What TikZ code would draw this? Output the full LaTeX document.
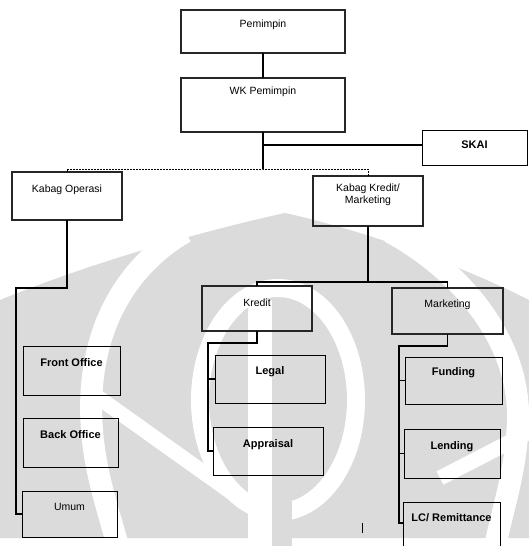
\documentclass[tikz,border=0pt]{standalone}
\usepackage{fontspec}
\setmainfont{Liberation Sans}
\begin{document}
\begin{tikzpicture}[x=1pt,y=-1pt,
  conn/.style={line width=1.1pt, black},
  dconn/.style={line width=0.8pt, black, dash pattern=on 2pt off 1pt},
  box/.style={draw, line width=1pt, anchor=north west, inner sep=0pt, outer sep=0pt},
  dbox/.style={box, draw=black!85, line width=2.4pt},
  lbl/.style={font=\fontsize{10.5}{12}\selectfont, align=center, anchor=center, inner sep=0pt},
  blbl/.style={lbl, font=\fontsize{11}{13}\selectfont\bfseries},
  wm/.style={fill=black!14, draw=none},
  wmw/.style={draw=white, line cap=butt}
]
\clip (0,0) rectangle (529,546);
\fill[white] (0,0) rectangle (529,546);

% faint watermark (scanned background logo)
\fill[wm] (0,300) .. controls (110,255) and (230,225) .. (285,213)
  .. controls (340,225) and (440,255) .. (529,300) -- (529,538) -- (0,538) -- cycle;
\draw[wmw, line width=22pt] (185,232) .. controls (120,270) and (85,340) .. (92,430)
  .. controls (95,470) and (105,500) .. (118,546);
\draw[wmw, line width=22pt] (390,232) .. controls (460,270) and (520,340) .. (518,420)
  .. controls (516,470) and (505,500) .. (495,546);
\draw[wmw, line width=18pt] (278,400) ellipse[x radius=78, y radius=112];
\draw[wmw, line width=15pt] (85,388) -- (245,502);
\draw[wmw, line width=15pt] (535,429) -- (440,478);
\fill[white] (248,300) rectangle (272,546);
\fill[wm] (272,455) rectangle (292,546);

% boxes
\node[dbox, minimum width=164pt, minimum height=43pt,
  label={[lbl,yshift=-15pt]north:Pemimpin}] (pem) at (181,10) {};
\node[dbox, minimum width=164pt, minimum height=54pt,
  label={[lbl,yshift=-14pt]north:WK Pemimpin}] (wk) at (181,78) {};
\node[box, minimum width=105pt, minimum height=35pt,
  label={[blbl,yshift=-15pt]north:SKAI}] (skai) at (422,130) {};
\node[dbox, minimum width=110pt, minimum height=48pt,
  label={[lbl,yshift=-18pt]north:Kabag Operasi}] (ops) at (12,172) {};
\node[dbox, minimum width=110pt, minimum height=50pt,
  label={[lbl,yshift=-18.5pt]north:Kabag Kredit/\\Marketing}] (kk) at (313,176) {};
\node[dbox, minimum width=110pt, minimum height=45pt,
  label={[lbl,yshift=-17pt]north:Kredit}] (kredit) at (202,286) {};
\node[dbox, minimum width=111pt, minimum height=46pt,
  label={[lbl,yshift=-17pt]north:Marketing}] (mkt) at (392,288) {};

\node[box, minimum width=97pt, minimum height=49pt,
  label={[blbl,yshift=-17pt]north:Front Office}] (fo) at (23,346) {};
\node[box, minimum width=95pt, minimum height=49pt,
  label={[blbl,yshift=-17pt]north:Back Office}] (bo) at (23,418) {};
\node[box, minimum width=95pt, minimum height=46pt,
  label={[lbl,yshift=-16pt]north:Umum}] (umum) at (22,491) {};

\node[box, minimum width=110pt, minimum height=48pt,
  label={[blbl,yshift=-17pt]north:Legal}] (legal) at (215,355) {};
\node[box, minimum width=110pt, minimum height=48pt,
  label={[blbl,yshift=-18pt]north:Appraisal}] (appr) at (213,427) {};

\node[box, minimum width=97pt, minimum height=47pt,
  label={[blbl,yshift=-16pt]north:Funding}] (fund) at (405,357) {};
\node[box, minimum width=96pt, minimum height=49pt,
  label={[blbl,yshift=-18pt]north:Lending}] (lend) at (404,429) {};
\node[box, minimum width=97pt, minimum height=60pt,
  label={[blbl,yshift=-16pt]north:LC/ Remittance}] (lc) at (403,502) {};

% junction points
\coordinate (j1) at (263,145);
\coordinate (j2) at (263,169);
\coordinate (o1) at (67,288);
\coordinate (o2) at (16,288);
\coordinate (k1) at (368,282);
\coordinate (r1) at (208,343);
\coordinate (m1) at (399,346);
\coordinate (m2) at (399,523);

% connectors
\draw[conn] (pem.south) -- (wk.north);
\draw[conn] (wk.south) -- (j2);
\draw[conn] (j1) -- (j1 -| skai.west);
\draw[dconn] (ops.north) |- (j2) -| (kk.north);

\draw[conn] (ops.south) -- (o1) -- (o2) |- (umum.west);

\draw[conn] (kk.south) -- (k1);
\draw[conn] (kredit.north) |- (k1) -| (mkt.north);

\draw[conn] (kredit.south) |- (r1) |- (appr.west);
\draw[conn] (r1 |- legal.west) -- (legal.west);

\draw[conn] (mkt.south) |- (m1) -- (m2) -- (m2 -| lc.west);
\draw[conn] (m1 |- fund.west) -- (fund.west);
\draw[conn] (m1 |- lend.west) -- (lend.west);

% small mark near bottom
\draw[line width=1pt] (362,523) -- (362,533);
\end{tikzpicture}
\end{document}
